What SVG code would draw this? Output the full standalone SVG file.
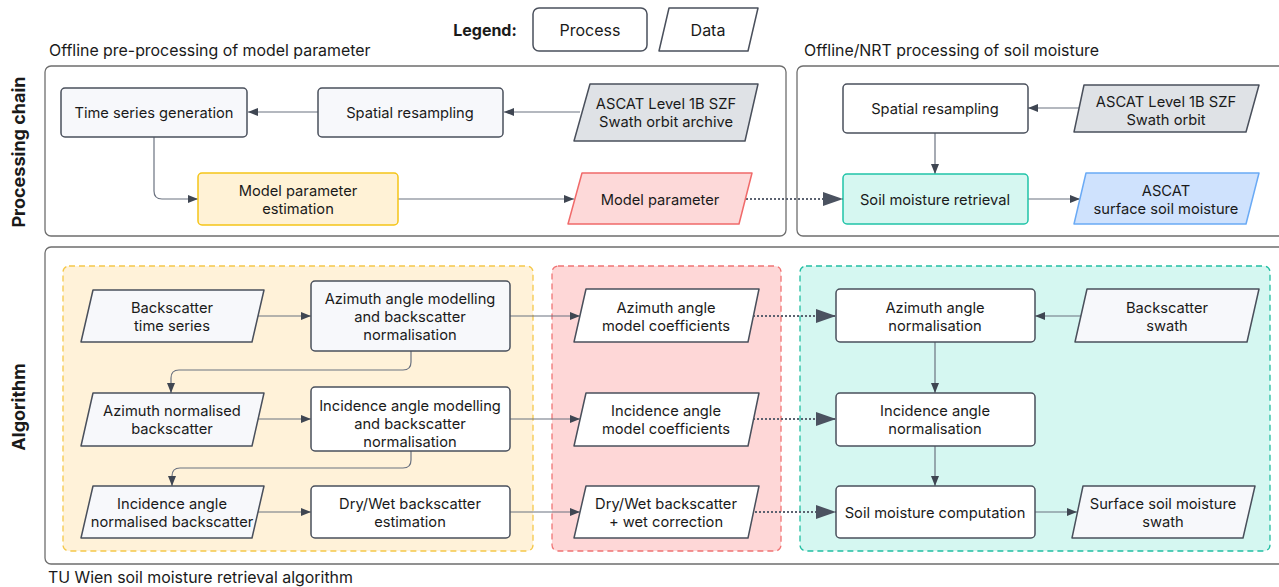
<svg xmlns="http://www.w3.org/2000/svg" width="1279" height="587" viewBox="0 0 1279 587">
<defs>
<style>
text{font-family:Inter,"Noto Sans","Liberation Sans",sans-serif;fill:#1a1a1a;}
.t{font-size:14.7px;text-anchor:middle;dominant-baseline:central;transform:translateY(1px);}
.lg{font-size:16px;text-anchor:middle;dominant-baseline:central;}
.ttl{font-size:15.9px;}
.side{font-size:18px;font-weight:bold;text-anchor:middle;dominant-baseline:central;}
.outer{fill:#ffffff;stroke:#6e6e6e;stroke-width:1.3;}
.pl{fill:#f7f8fb;stroke:#4a505c;stroke-width:1.5;}
.pw{fill:#ffffff;stroke:#4a505c;stroke-width:1.5;}
.dl{fill:#f7f8fb;stroke:#4a505c;stroke-width:1.5;stroke-linejoin:round;}
.dw{fill:#ffffff;stroke:#4a505c;stroke-width:1.5;stroke-linejoin:round;}
.dg{fill:#dfe2e6;stroke:#4a505c;stroke-width:1.5;stroke-linejoin:round;}
.c{fill:none;stroke:#6b7280;stroke-width:1.2;marker-end:url(#a);}
.d{fill:none;stroke:#5b6270;stroke-width:2;stroke-dasharray:2 2;marker-end:url(#b);}
</style>
<marker id="a" viewBox="0 0 10 8" refX="10" refY="4" markerWidth="11" markerHeight="8" markerUnits="userSpaceOnUse" orient="auto"><path d="M0,0 L10,4 L0,8 z" fill="#3f4652"/></marker>
<marker id="b" viewBox="0 0 20 14" refX="20" refY="7" markerWidth="20" markerHeight="14" markerUnits="userSpaceOnUse" orient="auto"><path d="M0,0 L20,7 L0,14 z" fill="#4b5260"/></marker>
</defs>
<rect width="1279" height="587" fill="#ffffff"/>

<g id="legend">
<text x="485" y="30" style="font-size:16px;font-weight:bold;text-anchor:middle;dominant-baseline:central;">Legend:</text>
<rect x="533" y="8" width="114" height="43" rx="6" class="pw"/>
<text class="lg" x="590" y="30">Process</text>
<polygon points="669,8 758,8 748,51 659,51" class="dw"/>
<text class="lg" x="708" y="30">Data</text>
</g>

<g id="containers">
<rect x="45" y="66" width="741" height="170" rx="6" class="outer"/>
<rect x="797" y="66" width="500" height="170" rx="6" class="outer"/>
<rect x="45" y="247" width="1252" height="317" rx="6" class="outer"/>
<text class="ttl" x="49" y="56">Offline pre-processing of model parameter</text>
<text class="ttl" x="804" y="56">Offline/NRT processing of soil moisture</text>
<text class="ttl" x="48" y="583">TU Wien soil moisture retrieval algorithm</text>
<text class="side" transform="translate(18,152) rotate(-90)">Processing chain</text>
<text class="side" transform="translate(18,407) rotate(-90)">Algorithm</text>
<rect x="63" y="266" width="470" height="285" rx="6" fill="#fff2d9" stroke="#f5c84a" stroke-width="1.3" stroke-dasharray="6 4"/>
<rect x="552" y="266" width="229" height="285" rx="6" fill="#fed7d7" stroke="#f07474" stroke-width="1.3" stroke-dasharray="6 4"/>
<rect x="800" y="266" width="470" height="285" rx="6" fill="#d5f7f1" stroke="#22bfa3" stroke-width="1.3" stroke-dasharray="6 4"/>
</g>

<g id="connectors">
<path class="c" d="M318,112 H248"/>
<path class="c" d="M580,112 H504"/>
<path class="c" d="M154,137 V191 Q154,199 162,199 H198"/>
<path class="c" d="M398,199 H574"/>
<path class="d" d="M746,199 H843"/>
<path class="c" d="M935,133 V174"/>
<path class="c" d="M1079,108 H1028"/>
<path class="c" d="M1028,199 H1080"/>
<path class="c" d="M258,316 H311"/>
<path class="c" d="M411,351 V362 Q411,370 403,370 H179 Q171,370 171,378 V393"/>
<path class="c" d="M258,419 H311"/>
<path class="c" d="M411,451 V460 Q411,468 403,468 H180 Q172,468 172,476 V486"/>
<path class="c" d="M258,512 H311"/>
<path class="c" d="M510,316 H580"/>
<path class="c" d="M510,419 H580"/>
<path class="c" d="M510,512 H580"/>
<path class="d" d="M753,316 H836"/>
<path class="d" d="M753,419 H836"/>
<path class="d" d="M743,512 H836"/>
<path class="c" d="M1081,316 H1035"/>
<path class="c" d="M935,342 V393"/>
<path class="c" d="M935,446 V486"/>
<path class="c" d="M1035,512 H1077"/>
</g>

<g id="n-tsg"><rect x="61" y="88" width="186" height="49" rx="4" class="pl"/><text class="t" x="154" y="112">Time series generation</text></g>
<g id="n-sr1"><rect x="318" y="88" width="185" height="49" rx="4" class="pl"/><text class="t" x="410" y="112">Spatial resampling</text></g>
<g id="n-asc1"><polygon points="590,84 758,84 745,141 574,141" class="dg"/><text class="t" x="666" y="103">ASCAT Level 1B SZF</text><text class="t" x="666" y="121">Swath orbit archive</text></g>
<g id="n-mpe"><rect x="198" y="173" width="200" height="52" rx="4" fill="#fff2d6" stroke="#f5c518" stroke-width="1.5"/><text class="t" x="298" y="190">Model parameter</text><text class="t" x="298" y="208">estimation</text></g>
<g id="n-mp"><polygon points="582,173 752,173 739,224 568,224" fill="#fdd9d9" stroke="#f06a6a" stroke-width="1.5" stroke-linejoin="round"/><text class="t" x="660" y="199">Model parameter</text></g>
<g id="n-sr2"><rect x="843" y="84" width="185" height="49" rx="4" class="pw"/><text class="t" x="935" y="108">Spatial resampling</text></g>
<g id="n-asc2"><polygon points="1084,85 1259,85 1246,132 1074,132" class="dg"/><text class="t" x="1166" y="101">ASCAT Level 1B SZF</text><text class="t" x="1166" y="119">Swath orbit</text></g>
<g id="n-smr"><rect x="843" y="174" width="185" height="50" rx="4" fill="#d6f7f1" stroke="#20c4a8" stroke-width="1.5"/><text class="t" x="935" y="199">Soil moisture retrieval</text></g>
<g id="n-ssm"><polygon points="1086,173 1259,173 1246,224 1074,224" fill="#cfe2fd" stroke="#6aaaf5" stroke-width="1.5" stroke-linejoin="round"/><text class="t" x="1166" y="190">ASCAT</text><text class="t" x="1166" y="208">surface soil moisture</text></g>

<g id="n-bts"><polygon points="93,290 264,290 252,342 81,342" class="dl"/><text class="t" x="172" y="307">Backscatter</text><text class="t" x="172" y="325">time series</text></g>
<g id="n-aam"><rect x="311" y="281" width="199" height="70" rx="4" class="pl"/><text class="t" x="410" y="298">Azimuth angle modelling</text><text class="t" x="410" y="316">and backscatter</text><text class="t" x="410" y="334">normalisation</text></g>
<g id="n-anb"><polygon points="93,393 264,393 252,446 81,446" class="dl"/><text class="t" x="172" y="410">Azimuth normalised</text><text class="t" x="172" y="428">backscatter</text></g>
<g id="n-iam"><rect x="311" y="387" width="199" height="64" rx="4" class="pw"/><text class="t" x="410" y="405">Incidence angle modelling</text><text class="t" x="410" y="423">and backscatter</text><text class="t" x="410" y="441">normalisation</text></g>
<g id="n-ianb"><polygon points="93,486 264,486 252,538 81,538" class="dl"/><text class="t" x="172" y="503">Incidence angle</text><text class="t" x="172" y="521">normalised backscatter</text></g>
<g id="n-dwe"><rect x="311" y="486" width="199" height="52" rx="4" class="pw"/><text class="t" x="410" y="503">Dry/Wet backscatter</text><text class="t" x="410" y="521">estimation</text></g>

<g id="n-aamc"><polygon points="586,289 759,289 748,342 574,342" class="dw"/><text class="t" x="666" y="307">Azimuth angle</text><text class="t" x="666" y="325">model coefficients</text></g>
<g id="n-iamc"><polygon points="586,393 759,393 748,446 574,446" class="dw"/><text class="t" x="666" y="410">Incidence angle</text><text class="t" x="666" y="428">model coefficients</text></g>
<g id="n-dwc"><polygon points="586,486 759,486 748,538 574,538" class="dw"/><text class="t" x="666" y="503">Dry/Wet backscatter</text><text class="t" x="666" y="521">+ wet correction</text></g>

<g id="n-aan"><rect x="836" y="289" width="199" height="53" rx="4" class="pw"/><text class="t" x="935" y="307">Azimuth angle</text><text class="t" x="935" y="325">normalisation</text></g>
<g id="n-bs"><polygon points="1087,289 1259,289 1247,342 1075,342" class="dl"/><text class="t" x="1167" y="307">Backscatter</text><text class="t" x="1167" y="325">swath</text></g>
<g id="n-ian"><rect x="836" y="393" width="199" height="53" rx="4" class="pw"/><text class="t" x="935" y="410">Incidence angle</text><text class="t" x="935" y="428">normalisation</text></g>
<g id="n-smc"><rect x="836" y="486" width="199" height="52" rx="4" class="pw"/><text class="t" x="935" y="512">Soil moisture computation</text></g>
<g id="n-ssms"><polygon points="1083,486 1255,486 1243,538 1072,538" class="dl"/><text class="t" x="1163" y="503">Surface soil moisture</text><text class="t" x="1163" y="521">swath</text></g>
</svg>
